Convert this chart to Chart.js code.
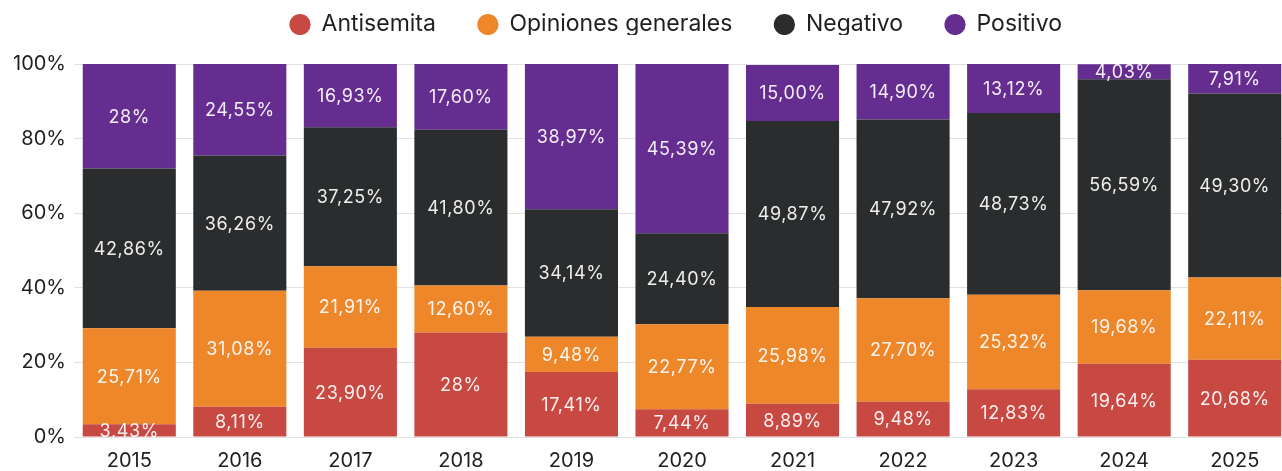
<!DOCTYPE html>
<html lang="es">
<head>
    <meta charset="UTF-8">
    <title>Distribución por año</title>
    <script src="https://cdn.jsdelivr.net/npm/chart.js"></script>
    <style>
        html, body { margin: 0; padding: 0; background: #fff; overflow: hidden; }
        .wrap { position: relative; width: 1290px; height: 471px; }
    </style>
</head>
<body>
    <div class="wrap"><canvas id="chart"></canvas></div>

    <script>
        const years = ['2015', '2016', '2017', '2018', '2019', '2020', '2021', '2022', '2023', '2024', '2025'];

        const antisemita = [3.43, 8.11, 23.90, 28, 17.41, 7.44, 8.89, 9.48, 12.83, 19.64, 20.68];
        const opiniones  = [25.71, 31.08, 21.91, 12.60, 9.48, 22.77, 25.98, 27.70, 25.32, 19.68, 22.11];
        const negativo   = [42.86, 36.26, 37.25, 41.80, 34.14, 24.40, 49.87, 47.92, 48.73, 56.59, 49.30];
        const positivo   = [28, 24.55, 16.93, 17.60, 38.97, 45.39, 15.00, 14.90, 13.12, 4.03, 7.91];

        // texts as printed on the bars
        const antisemitaLabels = ['3,43%', '8,11%', '23,90%', '28%', '17,41%', '7,44%', '8,89%', '9,48%', '12,83%', '19,64%', '20,68%'];
        const opinionesLabels  = ['25,71%', '31,08%', '21,91%', '12,60%', '9,48%', '22,77%', '25,98%', '27,70%', '25,32%', '19,68%', '22,11%'];
        const negativoLabels   = ['42,86%', '36,26%', '37,25%', '41,80%', '34,14%', '24,40%', '49,87%', '47,92%', '48,73%', '56,59%', '49,30%'];
        const positivoLabels   = ['28%', '24,55%', '16,93%', '17,60%', '38,97%', '45,39%', '15,00%', '14,90%', '13,12%', '4,03%', '7,91%'];

        const yTicks = [0, 20, 40, 60, 80, 100];

        const FONT = 'Inter, "Open Sans", sans-serif';

        // value text in the middle of every segment
        const barLabels = {
            id: 'barLabels',
            afterDatasetsDraw(chart) {
                const ctx = chart.ctx;
                ctx.save();
                ctx.font = '18px ' + FONT;
                ctx.letterSpacing = '0.6px';
                ctx.fillStyle = 'rgba(255,255,255,0.92)';
                ctx.textAlign = 'center';
                ctx.textBaseline = 'middle';
                chart.data.datasets.forEach((ds, i) => {
                    chart.getDatasetMeta(i).data.forEach((bar, j) => {
                        const mid = (bar.y + bar.base) / 2;
                        ctx.fillText(ds.labelsText[j], bar.x, mid + 1);
                    });
                });
                ctx.restore();
            }
        };

        // legend: fixed band height, then nudged up / right
        const legendPlace = {
            id: 'legendPlace',
            afterInit(chart) {
                const lg = chart.legend;
                const fit = lg.fit;
                lg.fit = function () {
                    fit.call(this);
                    this.height = 64;
                };
            },
            afterLayout(chart) {
                const lg = chart.legend;
                lg.top -= 29;
                lg.bottom -= 29;
                lg.left += 31;
                lg.right += 31;
            }
        };

        const mk = (label, data, texts, color) => ({
            label: label,
            data: data,
            labelsText: texts,
            backgroundColor: color,
            borderWidth: 0,
            barPercentage: 1,
            categoryPercentage: 0.842
        });

        new Chart(document.getElementById('chart'), {
            type: 'bar',
            data: {
                labels: years,
                datasets: [
                    mk('Antisemita', antisemita, antisemitaLabels, '#c84842'),
                    mk('Opiniones generales', opiniones, opinionesLabels, '#ee862a'),
                    mk('Negativo', negativo, negativoLabels, '#2a2c2d'),
                    mk('Positivo', positivo, positivoLabels, '#652d90')
                ]
            },
            options: {
                responsive: true,
                maintainAspectRatio: false,
                animation: false,
                layout: { padding: 0 },
                scales: {
                    x: {
                        stacked: true,
                        afterFit: axis => { axis.height = 34; },
                        grid: { display: false, drawTicks: false },
                        border: { display: false },
                        ticks: { color: '#1f1f1f', font: { family: FONT, size: 20 }, padding: 12, maxRotation: 0 }
                    },
                    y: {
                        stacked: true,
                        min: 0,
                        max: 100,
                        afterBuildTicks: axis => { axis.ticks = yTicks.map(v => ({ value: v })); },
                        afterFit: axis => { axis.width = 74; },
                        grid: { color: '#e2e2e2', drawTicks: false },
                        border: { display: false },
                        ticks: {
                            color: '#1f1f1f',
                            font: { family: FONT, size: 20 },
                            padding: 8,
                            callback: v => v + '%'
                        }
                    }
                },
                plugins: {
                    legend: {
                        position: 'top',
                        labels: {
                            usePointStyle: true,
                            pointStyle: 'circle',
                            boxWidth: 20,
                            boxHeight: 15,
                            color: '#1f1f1f',
                            font: { family: FONT, size: 23 },
                            padding: 42
                        }
                    },
                    tooltip: { enabled: false }
                }
            },
            plugins: [barLabels, legendPlace]
        });
    </script>
</body>
</html>
